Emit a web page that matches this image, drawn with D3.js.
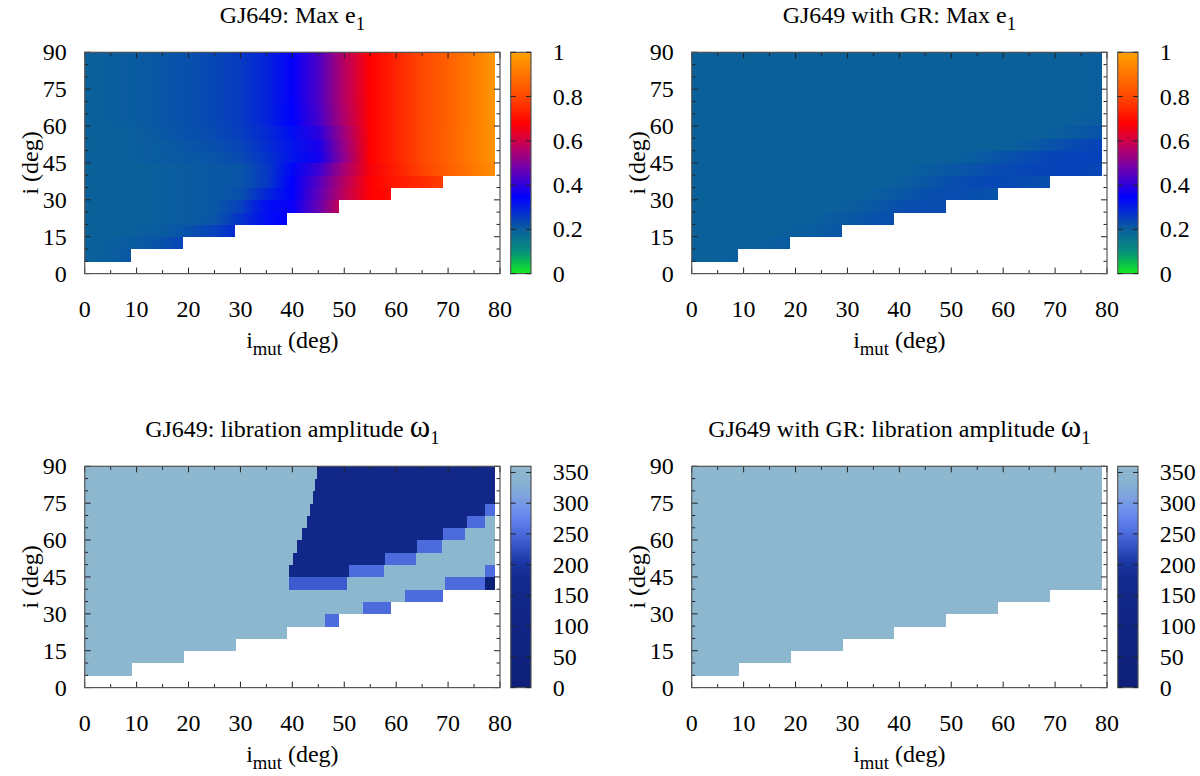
<!DOCTYPE html>
<html><head><meta charset="utf-8">
<script src="https://cdn.jsdelivr.net/npm/d3@7"></script>
<style>
html,body{margin:0;padding:0;background:#fff;}
svg text{font-family:'Liberation Serif','DejaVu Serif',serif;fill:#000;white-space:pre;}
</style>
</head><body>
<svg id="c" width="1200" height="776" font-family="Liberation Serif, DejaVu Serif, serif"></svg>
<script>
// ---------- data ----------
// i_mut sample positions (deg) for the smooth max-e1 maps
const iMutSamples = [0,5,10,15,20,25,30,35,40,45,50,55,60,65,70,75];
// bottom edge (deg) of each 5-deg row of i
const rowBottoms = [5,10,15,20,25,30,35,40,45,50,55,60,65,70,75,80,85];
// last i_mut (deg) covered in each row
const rowEnds = [9,19,29,39,49,59,69,79,79,79,79,79,79,79,79,79,79];

// Max e1 without GR (values at iMutSamples < rowEnd, then at rowEnd)
const maxE1 = [
 [0.200,0.205,0.215],
 [0.200,0.205,0.210,0.225,0.245],
 [0.200,0.200,0.205,0.210,0.225,0.250,0.285],
 [0.200,0.200,0.200,0.205,0.210,0.220,0.270,0.330,0.350],
 [0.200,0.200,0.200,0.205,0.210,0.215,0.250,0.330,0.360,0.470,0.580],
 [0.200,0.200,0.200,0.205,0.210,0.215,0.225,0.290,0.350,0.460,0.580,0.680,0.700],
 [0.200,0.200,0.200,0.205,0.210,0.215,0.220,0.260,0.350,0.450,0.570,0.680,0.720,0.750,0.780],
 [0.200,0.200,0.200,0.205,0.210,0.215,0.220,0.260,0.340,0.420,0.550,0.670,0.730,0.790,0.850,0.910,0.960],
 [0.200,0.200,0.205,0.210,0.215,0.220,0.235,0.270,0.320,0.370,0.520,0.680,0.740,0.800,0.860,0.920,0.970],
 [0.200,0.200,0.205,0.210,0.220,0.230,0.245,0.280,0.320,0.380,0.530,0.680,0.740,0.800,0.860,0.920,0.970],
 [0.200,0.200,0.205,0.215,0.225,0.235,0.255,0.285,0.330,0.400,0.540,0.680,0.740,0.800,0.860,0.920,0.975],
 [0.200,0.205,0.210,0.218,0.228,0.240,0.260,0.295,0.350,0.430,0.560,0.680,0.740,0.800,0.855,0.920,0.980],
 [0.200,0.205,0.210,0.218,0.228,0.240,0.260,0.295,0.350,0.435,0.565,0.680,0.740,0.800,0.855,0.920,0.980],
 [0.200,0.205,0.210,0.218,0.228,0.240,0.260,0.295,0.355,0.440,0.570,0.680,0.740,0.800,0.855,0.920,0.980],
 [0.200,0.205,0.210,0.218,0.228,0.240,0.260,0.295,0.355,0.440,0.570,0.680,0.740,0.800,0.855,0.920,0.980],
 [0.200,0.205,0.210,0.218,0.228,0.240,0.260,0.295,0.355,0.440,0.570,0.680,0.740,0.800,0.855,0.920,0.980],
 [0.200,0.205,0.210,0.218,0.228,0.240,0.260,0.295,0.355,0.440,0.570,0.680,0.740,0.800,0.855,0.920,0.980]
];

// Max e1 with GR
const maxE1GR = [
 [0.200,0.200,0.205],
 [0.200,0.200,0.200,0.205,0.210],
 [0.200,0.200,0.200,0.200,0.205,0.210,0.218],
 [0.200,0.200,0.200,0.200,0.200,0.205,0.215,0.225,0.228],
 [0.200,0.200,0.200,0.200,0.200,0.200,0.205,0.215,0.228,0.232,0.228],
 [0.200,0.200,0.200,0.200,0.200,0.200,0.200,0.205,0.215,0.228,0.232,0.228,0.222],
 [0.200,0.200,0.200,0.200,0.200,0.200,0.200,0.200,0.205,0.215,0.230,0.238,0.238,0.232,0.226],
 [0.200,0.200,0.200,0.200,0.200,0.200,0.200,0.200,0.200,0.208,0.215,0.225,0.235,0.242,0.246,0.246,0.238],
 [0.200,0.200,0.200,0.200,0.200,0.200,0.200,0.200,0.200,0.200,0.200,0.210,0.222,0.235,0.245,0.250,0.248],
 [0.200,0.200,0.200,0.200,0.200,0.200,0.200,0.200,0.200,0.200,0.200,0.200,0.200,0.210,0.225,0.240,0.245],
 [0.200,0.200,0.200,0.200,0.200,0.200,0.200,0.200,0.200,0.200,0.200,0.200,0.200,0.200,0.205,0.215,0.225],
 [0.200,0.200,0.200,0.200,0.200,0.200,0.200,0.200,0.200,0.200,0.200,0.200,0.200,0.200,0.200,0.205,0.210],
 [0.200,0.200,0.200,0.200,0.200,0.200,0.200,0.200,0.200,0.200,0.200,0.200,0.200,0.200,0.200,0.203,0.205],
 [0.200,0.200,0.200,0.200,0.200,0.200,0.200,0.200,0.200,0.200,0.200,0.200,0.200,0.200,0.200,0.203,0.205],
 [0.200,0.200,0.200,0.200,0.200,0.200,0.200,0.200,0.200,0.200,0.200,0.200,0.200,0.200,0.200,0.203,0.205],
 [0.200,0.200,0.200,0.200,0.200,0.200,0.200,0.200,0.200,0.200,0.200,0.200,0.200,0.200,0.200,0.203,0.205],
 [0.200,0.200,0.200,0.200,0.200,0.200,0.200,0.200,0.200,0.200,0.200,0.200,0.200,0.200,0.200,0.203,0.205]
];

// libration amplitude of omega1 without GR: per row, runs [from i_mut, to i_mut, amplitude]
const libration = [
 [[0,9,355]],
 [[0,19,355]],
 [[0,29,355]],
 [[0,39,355]],
 [[0,46.3,355],[46.3,49,252]],
 [[0,53.7,355],[53.7,59,252]],
 [[0,61.7,355],[61.7,69,252]],
 [[0,39.4,355],[39.4,50.5,238],[50.5,69.4,355],[69.4,77.1,252],[77.1,79,0]],
 [[0,39.4,355],[39.4,51.0,150],[51.0,57.7,252],[57.7,77.1,355],[77.1,79,252]],
 [[0,40.2,355],[40.2,57.9,150],[57.9,63.8,252],[63.8,79,355]],
 [[0,40.8,355],[40.8,64.0,150],[64.0,68.8,252],[68.8,79,355]],
 [[0,41.8,355],[41.8,69.0,150],[69.0,73.3,252],[73.3,79,355]],
 [[0,42.9,355],[42.9,73.6,150],[73.6,77.1,252],[77.1,79,355]],
 [[0,43.4,355],[43.4,77.1,150],[77.1,79,252]],
 [[0,44.0,355],[44.0,79,150]],
 [[0,44.4,355],[44.4,79,150]],
 [[0,44.8,355],[44.8,79,150]]
];

// libration amplitude with GR
const librationGR = [
 [[0,9,355]],[[0,19,355]],[[0,29,355]],[[0,39,355]],[[0,49,355]],[[0,59,355]],[[0,69,355]],
 [[0,79,355]],[[0,79,355]],[[0,79,355]],[[0,79,355]],[[0,79,355]],[[0,79,355]],[[0,79,355]],
 [[0,79,355]],[[0,79,355]],[[0,79,355]]
];

const xTicks = [0,10,20,30,40,50,60,70,80];
const xMinor = [5,15,25,35,45,55,65,75];
const yTicks = [0,15,30,45,60,75,90];
const yMinor = [5,10,20,25,35,40,50,55,65,70,80,85];
const cbTicksE = [0,0.2,0.4,0.6,0.8,1];
const cbTicksW = [0,50,100,150,200,250,300,350];

const eStops = [0,0.1,0.2,0.35,0.5,0.6,0.68,0.8,1];
const eColors = ["#10ee20","#06907a","#0a619a","#0000ff","#8000a0","#d00048","#ff0000","#ff4800","#ffa000"];
const wStops = [0,180,205,235,260,285,315,340,360];
const wColors = ["#0d2078","#12298c","#1c38a6","#3a58cc","#5574e4","#6c8cf0","#80a6dc","#8ab4d0","#8db8cf"];

const colorE = d3.scaleLinear().domain(eStops).range(eColors).clamp(true);
const colorW = d3.scaleLinear().domain(wStops).range(wColors).clamp(true);

// ---------- drawing ----------
const svg = d3.select("#c");
const defs = svg.append("defs");
const FS = 24;
const FF = "Liberation Serif, DejaVu Serif, serif";

function txt(sel){ return sel.append("text").attr("font-family",FF).attr("font-size",FS); }

function rich(sel, parts){
  let lowered = false;
  parts.forEach(p=>{
    const t = sel.append("tspan").text(p.t);
    if(p.size) t.attr("font-size", p.size);
    if(p.sub){ t.attr("font-size", FS*0.78).attr("dy", lowered?0:7); lowered = true; }
    else { if(lowered){ t.attr("dy",-7); lowered=false; } }
  });
}

function panel(o){
  const g = svg.append("g");
  const x = d3.scaleLinear().domain([0,80]).range([o.x0, o.x0+o.w]);
  const y = d3.scaleLinear().domain([0,90]).range([o.y0+o.h, o.y0]);
  const cells = g.append("g").attr("shape-rendering","crispEdges");

  if(o.kind==="grad"){
    o.data.forEach((vals,k)=>{
      const end = rowEnds[k], b = rowBottoms[k];
      const xs = iMutSamples.filter(v=>v<end).concat([end]);
      const id = o.id+"_r"+k;
      const gr = defs.append("linearGradient").attr("id",id)
        .attr("gradientUnits","userSpaceOnUse")
        .attr("x1",x(0)).attr("x2",x(end)).attr("y1",0).attr("y2",0);
      xs.forEach((xv,j)=>{
        gr.append("stop").attr("offset",(x(xv)-x(0))/(x(end)-x(0))).attr("stop-color",o.color(vals[j]));
      });
      cells.append("rect").attr("x",x(0)).attr("width",x(end)-x(0))
        .attr("y",y(b+5)).attr("height",y(b)-y(b+5)+0.4).attr("fill","url(#"+id+")");
    });
  } else {
    o.data.forEach((segs,k)=>{
      const b = rowBottoms[k];
      segs.forEach(s=>{
        cells.append("rect").attr("x",x(s[0])).attr("width",x(s[1])-x(s[0])+0.3)
          .attr("y",y(b+5)).attr("height",y(b)-y(b+5)+0.4).attr("fill",o.color(s[2]));
      });
    });
  }

  // ticks (inward, all sides)
  const tk = g.append("g").attr("stroke","#222").attr("stroke-width",1);
  const MJ=6, MN=3.5;
  xTicks.forEach(v=>{ tk.append("line").attr("x1",x(v)).attr("x2",x(v)).attr("y1",o.y0+o.h).attr("y2",o.y0+o.h-MJ);
                       tk.append("line").attr("x1",x(v)).attr("x2",x(v)).attr("y1",o.y0).attr("y2",o.y0+MJ); });
  xMinor.forEach(v=>{ tk.append("line").attr("x1",x(v)).attr("x2",x(v)).attr("y1",o.y0+o.h).attr("y2",o.y0+o.h-MN);
                       tk.append("line").attr("x1",x(v)).attr("x2",x(v)).attr("y1",o.y0).attr("y2",o.y0+MN); });
  yTicks.forEach(v=>{ tk.append("line").attr("y1",y(v)).attr("y2",y(v)).attr("x1",o.x0).attr("x2",o.x0+MJ);
                       tk.append("line").attr("y1",y(v)).attr("y2",y(v)).attr("x1",o.x0+o.w).attr("x2",o.x0+o.w-MJ); });
  yMinor.forEach(v=>{ tk.append("line").attr("y1",y(v)).attr("y2",y(v)).attr("x1",o.x0).attr("x2",o.x0+MN);
                       tk.append("line").attr("y1",y(v)).attr("y2",y(v)).attr("x1",o.x0+o.w).attr("x2",o.x0+o.w-MN); });
  g.append("rect").attr("x",o.x0).attr("y",o.y0).attr("width",o.w).attr("height",o.h)
    .attr("fill","none").attr("stroke","#555").attr("stroke-width",1.2);

  // tick labels
  xTicks.forEach(v=>{ txt(g).attr("x",x(v)).attr("y",o.y0+o.h+43).attr("text-anchor","middle").text(v); });
  yTicks.forEach(v=>{ txt(g).attr("x",o.x0-18).attr("y",y(v)+8).attr("text-anchor","end").text(v); });

  // axis titles
  const xt = txt(g).attr("x",o.x0+o.w/2).attr("y",o.y0+o.h+74).attr("text-anchor","middle");
  rich(xt,[{t:"i"},{t:"mut",sub:true},{t:" (deg)"}]);
  txt(g).attr("transform",`translate(${o.x0-55},${o.y0+o.h/2}) rotate(-90)`)
    .attr("text-anchor","middle").attr("dominant-baseline","central").text("i (deg)");

  // title
  const tt = txt(g).attr("x",o.x0+o.w/2).attr("y",o.y0-29).attr("text-anchor","middle");
  rich(tt,o.title);

  // colorbar
  const cbx = o.x0+o.w+10.7, cbw = 20.3;
  const cy = d3.scaleLinear().domain(o.cbDomain).range([o.y0+o.h, o.y0]);
  const cb = g.append("g").attr("shape-rendering","crispEdges");
  const nSteps = 220;
  d3.range(nSteps).forEach(i=>{
    const v0 = o.cbDomain[0] + (o.cbDomain[1]-o.cbDomain[0])*i/nSteps;
    const v1 = o.cbDomain[0] + (o.cbDomain[1]-o.cbDomain[0])*(i+1)/nSteps;
    cb.append("rect").attr("x",cbx).attr("width",cbw).attr("y",cy(v1)).attr("height",cy(v0)-cy(v1)+0.6)
      .attr("fill",o.color((v0+v1)/2));
  });
  g.append("rect").attr("x",cbx).attr("y",o.y0).attr("width",cbw).attr("height",o.h)
    .attr("fill","none").attr("stroke","#555").attr("stroke-width",1.2);
  const ct = g.append("g").attr("stroke","#222").attr("stroke-width",1);
  o.cbTicks.forEach(v=>{
    ct.append("line").attr("x1",cbx).attr("x2",cbx+5).attr("y1",cy(v)).attr("y2",cy(v));
    ct.append("line").attr("x1",cbx+cbw).attr("x2",cbx+cbw-5).attr("y1",cy(v)).attr("y2",cy(v));
    txt(g).attr("x",cbx+42).attr("y",cy(v)+8).text(d3.format("~g")(v));
  });
}

const L = {xl:84.7, xr:691.7, w:415.3, yt:52.3, yb:466.3, h:221.3};
panel({id:"tl",kind:"grad",x0:L.xl,y0:L.yt,w:L.w,h:L.h,data:maxE1,color:colorE,
  cbDomain:[0,1],cbTicks:cbTicksE,title:[{t:"GJ649: Max e"},{t:"1",sub:true}]});
panel({id:"tr",kind:"grad",x0:L.xr,y0:L.yt,w:L.w,h:L.h,data:maxE1GR,color:colorE,
  cbDomain:[0,1],cbTicks:cbTicksE,title:[{t:"GJ649 with GR: Max e"},{t:"1",sub:true}]});
panel({id:"bl",kind:"seg",x0:L.xl,y0:L.yb,w:L.w,h:L.h,data:libration,color:colorW,
  cbDomain:[0,360],cbTicks:cbTicksW,title:[{t:"GJ649: libration amplitude "},{t:"ω",size:31},{t:"1",sub:true}]});
panel({id:"br",kind:"seg",x0:L.xr,y0:L.yb,w:L.w,h:L.h,data:librationGR,color:colorW,
  cbDomain:[0,360],cbTicks:cbTicksW,title:[{t:"GJ649 with GR: libration amplitude "},{t:"ω",size:31},{t:"1",sub:true}]});
</script>
</body></html>
